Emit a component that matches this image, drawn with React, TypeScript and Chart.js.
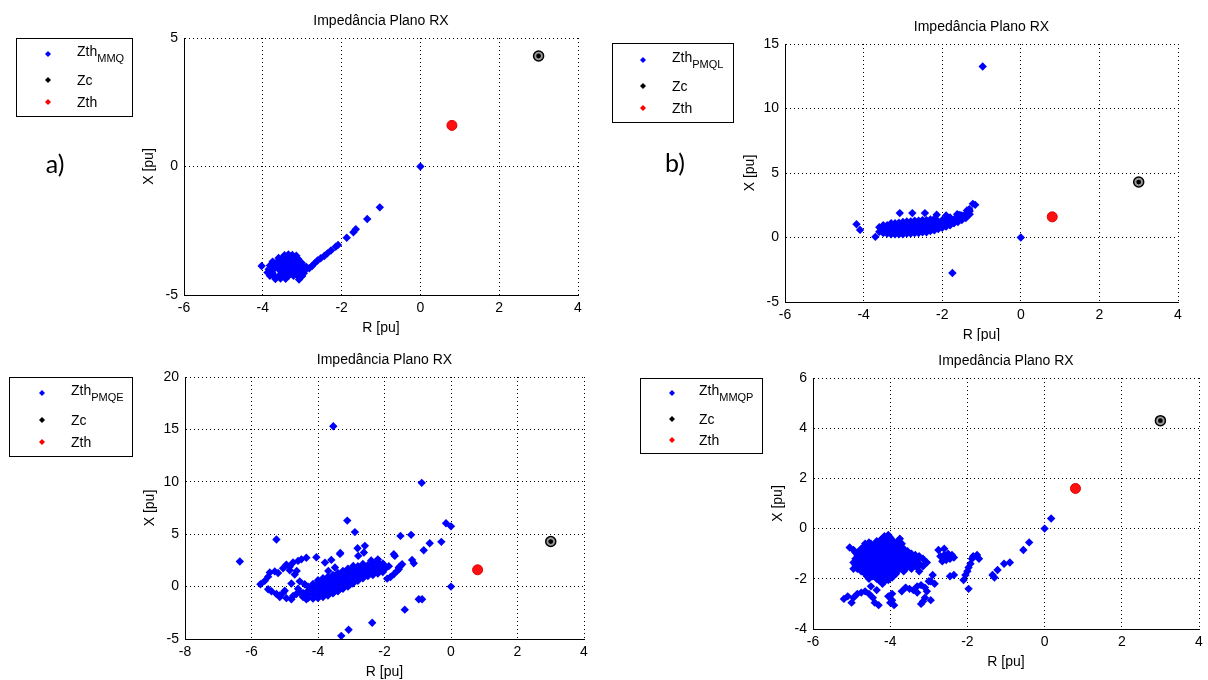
import React, { useEffect, useRef } from "react";
import { Chart, registerables } from "chart.js";

Chart.register(...registerables);

type Pt = [number, number];

// ---------- text ----------
const TITLE = "Impedância Plano RX";
const X_LABEL = "R [pu]";
const Y_LABEL = "X [pu]";
const LEGEND_NAMES = ["Zth", "Zc", "Zth"];
const LEGEND_SUBS = ["MMQ", "PMQL", "PMQE", "MMQP"];
const PANEL_TAGS = ["a)", "b)", "", ""];

// ---------- tick labels ----------
const xTicksA = [-6, -4, -2, 0, 2, 4];
const yTicksA = [-5, 0, 5];
const xTicksB = [-6, -4, -2, 0, 2, 4];
const yTicksB = [-5, 0, 5, 10, 15];
const xTicksC = [-8, -6, -4, -2, 0, 2, 4];
const yTicksC = [-5, 0, 5, 10, 15, 20];
const xTicksD = [-6, -4, -2, 0, 2, 4];
const yTicksD = [-4, -2, 0, 2, 4, 6];

// ---------- reference points ----------
const zcPoint: Pt[] = [[3.0, 4.3]];
const zthPoint: Pt[] = [[0.8, 1.6]];

// ---------- Zth MMQ (a) ----------
const zthMMQ: Pt[] = [
  [0, 0],
  [-1.03, -1.59], [-1.35, -2.04], [-1.64, -2.44], [-1.7, -2.56], [-1.87, -2.77],
  [-2.09, -3.05], [-2.15, -3.12], [-2.27, -3.27], [-2.36, -3.38], [-2.44, -3.48],
  [-2.53, -3.57], [-2.61, -3.66], [-2.69, -3.77], [-2.75, -3.87], [-2.82, -3.96],
  [-4.03, -3.87],
  [-3.45, -3.45], [-3.35, -3.42], [-3.25, -3.44], [-3.15, -3.47],
  [-3.6, -3.56], [-3.5, -3.55], [-3.4, -3.53], [-3.3, -3.55], [-3.2, -3.57], [-3.1, -3.6],
  [-3.75, -3.7], [-3.62, -3.69], [-3.5, -3.71], [-3.38, -3.68], [-3.26, -3.7], [-3.14, -3.72], [-3.02, -3.74],
  [-3.82, -3.85], [-3.7, -3.84], [-3.58, -3.86], [-3.46, -3.85], [-3.34, -3.83], [-3.22, -3.86], [-3.1, -3.85], [-2.98, -3.87], [-2.9, -3.9],
  [-3.85, -4.0], [-3.73, -4.01], [-3.61, -3.98], [-3.49, -4.0], [-3.37, -4.02], [-3.25, -3.99], [-3.13, -4.01], [-3.01, -4.0], [-2.92, -4.03],
  [-3.88, -4.12], [-3.76, -4.13], [-3.52, -4.11], [-3.4, -4.13], [-3.28, -4.12], [-3.16, -4.14], [-3.04, -4.12], [-2.96, -4.15],
  [-3.82, -4.25], [-3.7, -4.26], [-3.58, -4.24], [-3.46, -4.26], [-3.34, -4.24], [-3.22, -4.25], [-3.1, -4.28], [-3.0, -4.26],
  [-3.68, -4.38], [-3.55, -4.36], [-3.42, -4.37], [-3.08, -4.4],
];

// ---------- Zth PMQL (b) ----------
const zthPMQL: Pt[] = [
  [0, 0], [-0.97, 13.26], [-1.74, -2.75],
  [-4.18, 1.03], [-4.09, 0.59], [-3.7, 0.05],
  [-3.08, 1.89], [-2.76, 1.89], [-2.44, 1.89], [-2.14, 1.76], [-1.9, 1.71],
  [-1.62, 1.81], [-1.55, 1.75], [-1.37, 2.1], [-1.31, 2.2], [-1.22, 2.61], [-1.16, 2.53],
  [-3.6, 0.45], [-3.6, 0.8],
  [-3.5, 0.35], [-3.5, 0.65], [-3.5, 0.95],
  [-3.4, 0.3], [-3.4, 0.6], [-3.4, 0.95],
  [-3.3, 0.25], [-3.3, 0.55], [-3.3, 0.85], [-3.3, 1.1],
  [-3.2, 0.25], [-3.2, 0.5], [-3.2, 0.8], [-3.2, 1.1],
  [-3.1, 0.25], [-3.1, 0.55], [-3.1, 0.85], [-3.1, 1.15],
  [-3.0, 0.25], [-3.0, 0.55], [-3.0, 0.85], [-3.0, 1.2],
  [-2.9, 0.3], [-2.9, 0.6], [-2.9, 0.9], [-2.9, 1.25],
  [-2.8, 0.3], [-2.8, 0.6], [-2.8, 0.9], [-2.8, 1.25],
  [-2.7, 0.35], [-2.7, 0.65], [-2.7, 0.95], [-2.7, 1.3],
  [-2.6, 0.35], [-2.6, 0.65], [-2.6, 0.95], [-2.6, 1.3],
  [-2.5, 0.4], [-2.5, 0.7], [-2.5, 1.0], [-2.5, 1.35],
  [-2.4, 0.4], [-2.4, 0.7], [-2.4, 1.0], [-2.4, 1.35],
  [-2.3, 0.5], [-2.3, 0.8], [-2.3, 1.1], [-2.3, 1.4],
  [-2.2, 0.55], [-2.2, 0.85], [-2.2, 1.15], [-2.2, 1.45],
  [-2.1, 0.65], [-2.1, 0.95], [-2.1, 1.25],
  [-2.0, 0.75], [-2.0, 1.05], [-2.0, 1.35],
  [-1.9, 0.85], [-1.9, 1.15], [-1.9, 1.45],
  [-1.8, 0.95], [-1.8, 1.25], [-1.8, 1.55],
  [-1.7, 1.1], [-1.7, 1.4],
  [-1.6, 1.2], [-1.6, 1.5], [-1.6, 1.75],
  [-1.5, 1.35], [-1.5, 1.7],
  [-1.4, 1.5], [-1.4, 1.85],
  [-1.3, 1.8], [-1.3, 2.05],
];

// ---------- Zth PMQE (c) ----------
const zthPMQE: Pt[] = [
  [0, 0],
  [-4.45, -1.0], [-4.45, -0.6],
  [-4.3, -1.1], [-4.3, -0.75], [-4.3, -0.4], [-4.3, 0.0],
  [-4.15, -1.15], [-4.15, -0.8], [-4.15, -0.45], [-4.15, -0.1], [-4.15, 0.25],
  [-4.0, -1.1], [-4.0, -0.75], [-4.0, -0.4], [-4.0, -0.05], [-4.0, 0.3], [-4.0, 0.6],
  [-3.85, -1.0], [-3.85, -0.65], [-3.85, -0.3], [-3.85, 0.05], [-3.85, 0.4], [-3.85, 0.8],
  [-3.7, -0.85], [-3.7, -0.5], [-3.7, -0.15], [-3.7, 0.2], [-3.7, 0.55], [-3.7, 0.95],
  [-3.55, -0.65], [-3.55, -0.3], [-3.55, 0.05], [-3.55, 0.4], [-3.55, 0.75], [-3.55, 1.1],
  [-3.4, -0.45], [-3.4, -0.1], [-3.4, 0.25], [-3.4, 0.6], [-3.4, 0.95], [-3.4, 1.3],
  [-3.25, -0.2], [-3.25, 0.15], [-3.25, 0.5], [-3.25, 0.85], [-3.25, 1.2], [-3.25, 1.5],
  [-3.1, 0.0], [-3.1, 0.35], [-3.1, 0.7], [-3.1, 1.05], [-3.1, 1.4], [-3.1, 1.7],
  [-2.95, 0.3], [-2.95, 0.65], [-2.95, 1.0], [-2.95, 1.35], [-2.95, 1.7],
  [-2.8, 0.55], [-2.8, 0.9], [-2.8, 1.25], [-2.8, 1.6], [-2.8, 1.95],
  [-2.65, 0.8], [-2.65, 1.15], [-2.65, 1.5], [-2.65, 1.85], [-2.65, 2.15],
  [-2.5, 1.0], [-2.5, 1.35], [-2.5, 1.7], [-2.5, 2.05],
  [-2.35, 1.1], [-2.35, 1.45], [-2.35, 1.8], [-2.35, 2.2],
  [-2.2, 1.25], [-2.2, 1.6], [-2.2, 1.95], [-2.2, 2.35],
  [-2.05, 1.4], [-2.05, 1.8], [-2.05, 2.2],
  [-6.35, 2.4], [-5.25, 4.5], [-5.73, 0.22], [-5.6, 0.55], [-5.5, 0.95], [-5.45, 1.35],
  [-5.3, 1.45], [-5.2, 1.3], [-5.05, 1.75], [-4.95, 2.1], [-4.85, 1.9], [-4.75, 2.3],
  [-4.6, 2.45], [-4.5, 2.6], [-4.35, 2.75], [-4.64, 1.5], [-4.7, 1.15], [-4.85, 1.55],
  [-5.5, -0.25], [-5.4, -0.45], [-5.25, -0.7], [-5.15, -1.0], [-5.05, -0.6], [-4.8, -1.2],
  [-4.75, -0.9], [-4.65, -0.7], [-4.55, -0.5], [-4.45, -0.9], [-4.35, -1.2], [-5.0, -0.4],
  [-4.6, -0.2], [-4.4, 0.22], [-4.55, 0.5], [-4.8, 0.3], [-5.15, -0.85], [-4.95, -1.1],
  [-4.05, 2.8], [-3.79, 2.29], [-3.6, 2.55], [-3.34, 3.12], [-3.69, 1.5], [-3.49, 1.82],
  [-2.94, 1.97], [-2.79, 2.93], [-2.59, 3.89], [-2.81, 3.66], [-2.62, 3.26], [-3.33, 3.2],
  [-3.04, 0.2], [-3.12, 6.3], [-2.89, 5.2], [-3.54, 15.3], [-0.88, 9.9], [-2.4, 2.5], [-2.2, 2.6],
  [-0.15, 6.05], [0, 5.75], [-1.52, 4.84], [-1.2, 4.94], [-0.64, 4.14], [-0.29, 4.27],
  [-0.82, 3.47], [-1.72, 3.09], [-1.69, 2.93], [-1.17, 2.55], [-1.12, 2.23], [-1.47, 2.13],
  [-1.52, 1.97], [-1.57, 1.82], [-1.57, 1.66], [-1.62, 1.5], [-1.72, 1.18], [-1.82, 0.92],
  [-1.92, 0.76], [-2.07, 1.97], [-1.95, 1.8], [-1.87, 1.95],
  [-0.97, -1.2], [-0.87, -1.2], [-1.39, -2.2], [-2.37, -3.45], [-3.08, -4.12], [-3.3, -4.7],
];

// ---------- Zth MMQP (d) ----------
const zthMMQP: Pt[] = [
  [0, 0], [0.17, 0.4],
  [-5.05, -0.75],
  [-4.95, -0.85], [-4.95, -1.35], [-4.95, -1.6],
  [-4.85, -1.05], [-4.85, -1.3], [-4.85, -1.6],
  [-4.75, -0.8], [-4.75, -1.1], [-4.75, -1.4], [-4.75, -1.7],
  [-4.65, -0.6], [-4.65, -0.9], [-4.65, -1.2], [-4.65, -1.5], [-4.65, -1.8],
  [-4.55, -0.55], [-4.55, -0.85], [-4.55, -1.15], [-4.55, -1.45], [-4.55, -1.75], [-4.55, -2.0],
  [-4.45, -0.7], [-4.45, -1.0], [-4.45, -1.3], [-4.45, -1.6], [-4.45, -1.9],
  [-4.35, -0.5], [-4.35, -0.8], [-4.35, -1.1], [-4.35, -1.4], [-4.35, -1.7], [-4.35, -2.0],
  [-4.25, -0.45], [-4.25, -0.75], [-4.25, -1.05], [-4.25, -1.35], [-4.25, -1.65], [-4.25, -1.95],
  [-4.15, -0.3], [-4.15, -0.6], [-4.15, -0.9], [-4.15, -1.2], [-4.15, -1.5], [-4.15, -1.8], [-4.15, -2.1],
  [-4.05, -0.25], [-4.05, -0.55], [-4.05, -0.85], [-4.05, -1.15], [-4.05, -1.45], [-4.05, -1.75], [-4.05, -2.05],
  [-3.95, -0.45], [-3.95, -0.75], [-3.95, -1.05], [-3.95, -1.35], [-3.95, -1.65], [-3.95, -1.95],
  [-3.85, -0.6], [-3.85, -0.9], [-3.85, -1.2], [-3.85, -1.5], [-3.85, -1.8],
  [-3.75, -0.4], [-3.75, -0.7], [-3.75, -1.0], [-3.75, -1.3], [-3.75, -1.6],
  [-3.65, -0.8], [-3.65, -1.1], [-3.65, -1.4], [-3.65, -1.7],
  [-3.55, -0.9], [-3.55, -1.2], [-3.55, -1.5],
  [-3.45, -1.0], [-3.45, -1.3], [-3.45, -1.6],
  [-3.35, -1.05], [-3.35, -1.35],
  [-3.25, -1.1], [-3.25, -1.4], [-3.25, -1.7],
  [-3.15, -1.2], [-3.15, -1.5],
  [-3.05, -1.35],
  [-4.9, -0.95], [-4.9, -1.2], [-4.9, -1.45],
  [-4.8, -0.9], [-4.8, -1.2], [-4.8, -1.5],
  [-4.7, -0.75], [-4.7, -1.05], [-4.7, -1.35], [-4.7, -1.65],
  [-4.6, -0.7], [-4.6, -1.0], [-4.6, -1.3], [-4.6, -1.6], [-4.6, -1.9],
  [-4.5, -0.6], [-4.5, -0.9], [-4.5, -1.2], [-4.5, -1.5], [-4.5, -1.8],
  [-4.4, -0.65], [-4.4, -0.95], [-4.4, -1.25], [-4.4, -1.55], [-4.4, -1.85],
  [-4.3, -0.6], [-4.3, -0.9], [-4.3, -1.2], [-4.3, -1.5], [-4.3, -1.8], [-4.3, -2.05],
  [-4.2, -0.4], [-4.2, -0.7], [-4.2, -1.0], [-4.2, -1.3], [-4.2, -1.6], [-4.2, -1.9],
  [-4.1, -0.4], [-4.1, -0.7], [-4.1, -1.0], [-4.1, -1.3], [-4.1, -1.6], [-4.1, -1.9],
  [-4.0, -0.35], [-4.0, -0.6], [-4.0, -0.9], [-4.0, -1.2], [-4.0, -1.5], [-4.0, -1.8],
  [-3.9, -0.55], [-3.9, -0.85], [-3.9, -1.15], [-3.9, -1.45], [-3.9, -1.75],
  [-3.8, -0.5], [-3.8, -0.8], [-3.8, -1.1], [-3.8, -1.4], [-3.8, -1.65],
  [-3.7, -0.6], [-3.7, -0.9], [-3.7, -1.2], [-3.7, -1.5],
  [-3.6, -1.0], [-3.6, -1.3], [-3.6, -1.6],
  [-3.5, -1.1], [-3.5, -1.4],
  [-3.4, -1.15], [-3.4, -1.45],
  [-3.3, -1.25], [-3.3, -1.55],
  [-5.2, -2.8], [-5.1, -2.7], [-5.0, -2.95], [-4.95, -2.75], [-4.85, -2.6], [-4.75, -2.55],
  [-4.65, -2.5], [-4.55, -2.6], [-4.5, -2.3], [-4.45, -2.75], [-4.4, -2.95], [-4.3, -3.05],
  [-4.35, -2.45], [-4.2, -2.2], [-4.05, -2.7], [-4.0, -2.95], [-3.95, -2.85], [-3.9, -3.05],
  [-3.95, -2.6],
  [-3.7, -2.5], [-3.6, -2.35], [-3.5, -2.4], [-3.4, -2.45], [-3.3, -2.3], [-3.2, -2.25],
  [-3.1, -2.35], [-3.0, -2.1], [-2.9, -1.85], [-2.95, -2.1], [-2.85, -2.2], [-3.3, -2.55],
  [-3.05, -2.5], [-3.1, -2.75], [-3.15, -2.9], [-3.2, -3.0], [-2.95, -2.85],
  [-2.75, -0.85], [-2.6, -0.8], [-2.5, -1.0], [-2.45, -1.2], [-2.55, -1.25], [-2.65, -1.3],
  [-2.7, -1.1], [-2.4, -1.05], [-2.35, -1.15], [-2.6, -1.05],
  [-2.45, -1.9], [-2.35, -1.85], [-2.1, -2.05], [-2.05, -1.85], [-2.0, -1.7], [-1.97, -1.55],
  [-1.92, -1.4], [-1.88, -1.2], [-1.85, -1.1], [-1.75, -1.05], [-1.7, -1.2], [-1.97, -2.4],
  [-1.35, -1.85], [-1.3, -1.95], [-1.22, -1.65], [-1.05, -1.4], [-0.9, -1.35],
  [-0.55, -0.85], [-0.4, -0.55],
];

const seriesList: Pt[][] = [zthMMQ, zthPMQL, zthPMQE, zthMMQP];
const xTickList = [xTicksA, xTicksB, xTicksC, xTicksD];
const yTickList = [yTicksA, yTicksB, yTicksC, yTicksD];

// ---------- layout (page pixels) ----------
const W = 1208;
const H = 680;
const FONT = '"Liberation Sans", Arial, Helvetica, sans-serif';

type Layout = {
  L: number; R: number; T: number; B: number;
  legend: { x: number; y: number; w: number; h: number; mx: number; tx: number; rows: number[] };
  tag: { x: number; y: number };
  clipY: number | null;
};

const layouts: Layout[] = [
  { L: 184, R: 578, T: 38, B: 295, legend: { x: 16, y: 38, w: 116, h: 78, mx: 32, tx: 61, rows: [16, 42, 64] }, tag: { x: 55, y: 165 }, clipY: null },
  { L: 785, R: 1178, T: 44, B: 302, legend: { x: 612, y: 43, w: 121, h: 79, mx: 31, tx: 60, rows: [17, 43, 65] }, tag: { x: 675, y: 164 }, clipY: 341 },
  { L: 185, R: 584, T: 377, B: 639, legend: { x: 9, y: 377, w: 123, h: 79, mx: 33, tx: 62, rows: [16, 43, 65] }, tag: { x: 0, y: 0 }, clipY: null },
  { L: 813, R: 1199, T: 378, B: 629, legend: { x: 640, y: 378, w: 122, h: 75, mx: 32, tx: 59, rows: [15, 41, 62] }, tag: { x: 0, y: 0 }, clipY: null },
];

const toXY = (pts: Pt[]) => pts.map(([x, y]) => ({ x, y }));

function diamond(ctx: CanvasRenderingContext2D, x: number, y: number, r: number, color: string) {
  ctx.beginPath();
  ctx.moveTo(x - r, y);
  ctx.lineTo(x, y - r);
  ctx.lineTo(x + r, y);
  ctx.lineTo(x, y + r);
  ctx.closePath();
  ctx.fillStyle = color;
  ctx.fill();
}

function makeDecor(i: number) {
  const lay = layouts[i];
  return {
    id: "decor" + i,
    afterDraw(chart: any) {
      const ctx: CanvasRenderingContext2D = chart.ctx;
      const { left, right, top, bottom } = chart.chartArea;
      const cx = (left + right) / 2;
      ctx.save();
      ctx.fillStyle = "#000";
      ctx.font = "14px " + FONT;
      ctx.textAlign = "center";
      ctx.textBaseline = "middle";
      ctx.fillText(TITLE, cx, top - 17);

      ctx.save();
      if (lay.clipY !== null) {
        ctx.beginPath();
        ctx.rect(0, 0, W, lay.clipY);
        ctx.clip();
      }
      ctx.fillText(X_LABEL, cx, bottom + 33);
      ctx.restore();

      ctx.save();
      ctx.translate(left - 35, (top + bottom) / 2);
      ctx.rotate(-Math.PI / 2);
      ctx.fillText(Y_LABEL, 0, 0);
      ctx.restore();

      // legend
      const lg = lay.legend;
      ctx.fillStyle = "#fff";
      ctx.fillRect(lg.x, lg.y, lg.w, lg.h);
      ctx.strokeStyle = "#000";
      ctx.lineWidth = 1;
      ctx.strokeRect(lg.x + 0.5, lg.y + 0.5, lg.w, lg.h);
      const colors = ["#0000ff", "#000000", "#ff0000"];
      for (let k = 0; k < 3; k++) {
        const ry = lg.y + lg.rows[k];
        diamond(ctx, lg.x + lg.mx, ry, 3, colors[k]);
        ctx.fillStyle = "#000";
        ctx.textAlign = "left";
        ctx.font = "14px " + FONT;
        if (k === 0) {
          ctx.fillText(LEGEND_NAMES[k], lg.x + lg.tx, ry - 2);
          const w = ctx.measureText(LEGEND_NAMES[k]).width;
          ctx.font = "11px " + FONT;
          ctx.fillText(LEGEND_SUBS[i], lg.x + lg.tx + w, ry + 5);
        } else {
          ctx.fillText(LEGEND_NAMES[k], lg.x + lg.tx, ry + 1);
        }
      }

      if (PANEL_TAGS[i]) {
        ctx.font = '25px Lato, "Open Sans", sans-serif';
        ctx.textAlign = "center";
        ctx.textBaseline = "middle";
        ctx.fillStyle = "#000";
        ctx.fillText(PANEL_TAGS[i], lay.tag.x, lay.tag.y);
      }
      ctx.restore();
    },
  };
}

function buildConfig(i: number): any {
  const lay = layouts[i];
  const xt = xTickList[i];
  const yt = yTickList[i];
  const tickFont = { family: FONT, size: 14 };
  const gridOpts = { color: "#000", lineWidth: 1, drawTicks: false };
  const borderOpts = { display: true, color: "#000", width: 1, dash: [1, 3] };
  return {
    type: "scatter",
    data: {
      datasets: [
        { label: "Zth", data: toXY(zthPoint), pointStyle: "circle", pointRadius: 5, backgroundColor: "#ff1010", borderColor: "#e00000", borderWidth: 1 },
        { label: "Zc dot", data: toXY(zcPoint), pointStyle: "circle", pointRadius: 2.4, backgroundColor: "#000", borderWidth: 0 },
        { label: "Zc", data: toXY(zcPoint), pointStyle: "circle", pointRadius: 5, backgroundColor: "#9a9a9a", borderColor: "#000", borderWidth: 1.5 },
        { label: "Zth" + LEGEND_SUBS[i], data: toXY(seriesList[i]), pointStyle: "rectRot", pointRadius: 4.2, backgroundColor: "#0000ff", borderWidth: 0 },
      ],
    },
    options: {
      animation: false,
      responsive: false,
      devicePixelRatio: 1,
      events: [],
      layout: { padding: { left: lay.L - 40, right: W - lay.R, top: lay.T, bottom: H - lay.B - 20 } },
      plugins: { legend: { display: false }, tooltip: { enabled: false }, title: { display: false } },
      scales: {
        x: {
          type: "linear",
          position: "bottom",
          min: xt[0],
          max: xt[xt.length - 1],
          afterFit: (s: any) => { s.height = 20; },
          afterBuildTicks: (s: any) => { s.ticks = xt.map((v) => ({ value: v })); },
          ticks: { color: "#000", font: tickFont, padding: 5, maxRotation: 0, autoSkip: false, callback: (v: any) => String(v) },
          grid: gridOpts,
          border: borderOpts,
        },
        y: {
          type: "linear",
          position: "left",
          min: yt[0],
          max: yt[yt.length - 1],
          afterFit: (s: any) => { s.width = 40; },
          afterBuildTicks: (s: any) => { s.ticks = yt.map((v) => ({ value: v })); },
          ticks: { color: "#000", font: tickFont, padding: 6, autoSkip: false, callback: (v: any) => String(v) },
          grid: gridOpts,
          border: borderOpts,
        },
      },
    },
    plugins: [makeDecor(i)],
  };
}

export default function App() {
  const r0 = useRef<HTMLCanvasElement>(null);
  const r1 = useRef<HTMLCanvasElement>(null);
  const r2 = useRef<HTMLCanvasElement>(null);
  const r3 = useRef<HTMLCanvasElement>(null);

  useEffect(() => {
    const refs = [r0, r1, r2, r3];
    const charts = refs.map((r, i) => new Chart(r.current as HTMLCanvasElement, buildConfig(i)));
    return () => charts.forEach((c) => c.destroy());
  }, []);

  const style: React.CSSProperties = { position: "absolute", left: 0, top: 0, width: W, height: H };
  return (
    <div style={{ position: "fixed", left: 0, top: 0, width: W, height: H, background: "#fff", overflow: "hidden" }}>
      <canvas ref={r0} width={W} height={H} style={style} />
      <canvas ref={r1} width={W} height={H} style={style} />
      <canvas ref={r2} width={W} height={H} style={style} />
      <canvas ref={r3} width={W} height={H} style={style} />
    </div>
  );
}
